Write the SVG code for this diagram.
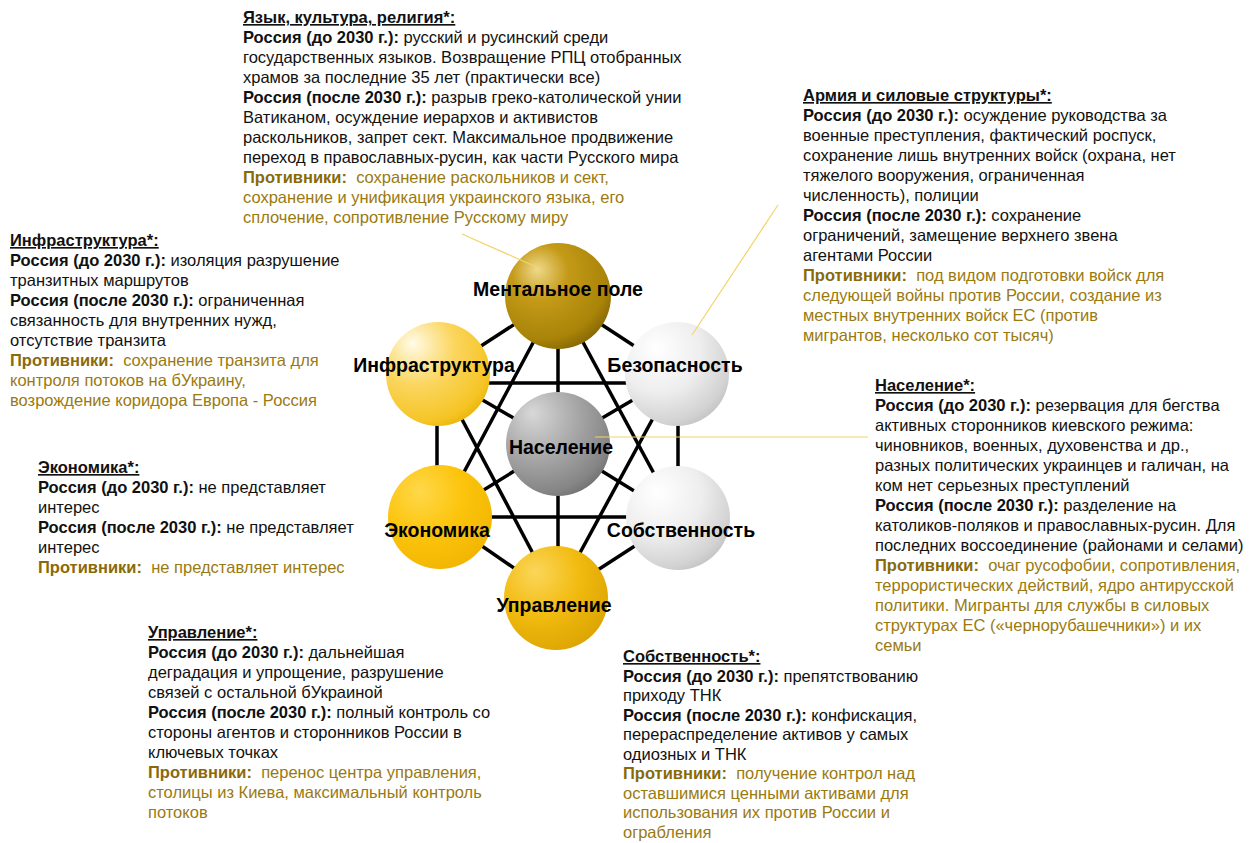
<svg xmlns="http://www.w3.org/2000/svg" width="1260" height="843" viewBox="0 0 1260 843">
<style>
text{font-family:"Liberation Sans",Arial,sans-serif;font-size:16.5px;fill:#111}
.t{font-weight:bold;text-decoration:underline}
.b{font-weight:bold}
.g{fill:#9a7a10}
.gb{fill:#8a6a08;font-weight:bold}
.lbl{font-weight:bold;font-size:19.5px;text-anchor:middle;fill:#000}
.edge{stroke:#000;stroke-width:3.5;stroke-linecap:butt}
.call{stroke:#f2d46a;stroke-width:1.2;fill:none}
</style>
<defs>
<radialGradient id="gMent" cx="0.38" cy="0.32" r="0.75" fx="0.3" fy="0.25">
<stop offset="0" stop-color="#efd98a"/><stop offset="0.35" stop-color="#c49a18"/><stop offset="0.8" stop-color="#a98408"/><stop offset="1" stop-color="#7f6206"/>
</radialGradient>
<radialGradient id="gInfra" cx="0.35" cy="0.3" r="0.8" fx="0.25" fy="0.2">
<stop offset="0" stop-color="#fffbe8"/><stop offset="0.45" stop-color="#fbd660"/><stop offset="0.85" stop-color="#f5c424"/><stop offset="1" stop-color="#e6b000"/>
</radialGradient>
<radialGradient id="gGrey" cx="0.35" cy="0.3" r="0.8" fx="0.3" fy="0.25">
<stop offset="0" stop-color="#ffffff"/><stop offset="0.5" stop-color="#eeeeee"/><stop offset="0.85" stop-color="#d2d2d2"/><stop offset="1" stop-color="#bdbdbd"/>
</radialGradient>
<radialGradient id="gPop" cx="0.35" cy="0.3" r="0.8" fx="0.25" fy="0.2">
<stop offset="0" stop-color="#d8d8d8"/><stop offset="0.5" stop-color="#a6a6a6"/><stop offset="0.85" stop-color="#858585"/><stop offset="1" stop-color="#6a6a6a"/>
</radialGradient>
<radialGradient id="gEcon" cx="0.35" cy="0.3" r="0.8" fx="0.3" fy="0.25">
<stop offset="0" stop-color="#ffd84a"/><stop offset="0.5" stop-color="#fcc40c"/><stop offset="1" stop-color="#f0b400"/>
</radialGradient>
<radialGradient id="gUpr" cx="0.35" cy="0.3" r="0.8" fx="0.3" fy="0.25">
<stop offset="0" stop-color="#fbd65a"/><stop offset="0.5" stop-color="#f2bb10"/><stop offset="1" stop-color="#d9a200"/>
</radialGradient>
</defs>
<rect width="1260" height="843" fill="#fff"/>

<g id="connectors">
<line class="edge" x1="558" y1="296" x2="438" y2="374"/>
<line class="edge" x1="558" y1="296" x2="677" y2="374"/>
<line class="edge" x1="558" y1="296" x2="558" y2="444"/>
<line class="edge" x1="558" y1="296" x2="440" y2="517"/>
<line class="edge" x1="558" y1="296" x2="678" y2="518"/>
<line class="edge" x1="438" y1="383" x2="677" y2="383"/>
<line class="edge" x1="438" y1="374" x2="558" y2="444"/>
<line class="edge" x1="437" y1="374" x2="437" y2="517"/>
<line class="edge" x1="438" y1="374" x2="556" y2="597"/>
<line class="edge" x1="677" y1="374" x2="558" y2="444"/>
<line class="edge" x1="678" y1="374" x2="678" y2="518"/>
<line class="edge" x1="677" y1="374" x2="556" y2="597"/>
<line class="edge" x1="440" y1="517" x2="558" y2="444"/>
<line class="edge" x1="440" y1="517" x2="678" y2="517"/>
<line class="edge" x1="440" y1="517" x2="556" y2="597"/>
<line class="edge" x1="678" y1="518" x2="558" y2="444"/>
<line class="edge" x1="678" y1="518" x2="556" y2="597"/>
<line class="edge" x1="558" y1="444" x2="558" y2="597"/>
</g>

<g id="node-ment"><circle cx="558" cy="296" r="53" fill="url(#gMent)"/><text class="lbl" x="558" y="296">Ментальное поле</text></g>
<g id="node-infra"><circle cx="438" cy="374" r="52" fill="url(#gInfra)"/><text class="lbl" x="434" y="372">Инфраструктура</text></g>
<g id="node-bez"><circle cx="677" cy="374" r="52" fill="url(#gGrey)"/><text class="lbl" x="675" y="372">Безопасность</text></g>
<g id="node-pop"><circle cx="558" cy="444" r="52" fill="url(#gPop)"/><text class="lbl" x="561" y="454">Население</text></g>
<g id="node-econ"><circle cx="440" cy="517" r="52" fill="url(#gEcon)"/><text class="lbl" x="437" y="537">Экономика</text></g>
<g id="node-sob"><circle cx="678" cy="518" r="52" fill="url(#gGrey)"/><text class="lbl" x="681" y="537">Собственность</text></g>
<g id="node-upr"><circle cx="556" cy="598" r="52" fill="url(#gUpr)"/><text class="lbl" x="554" y="612">Управление</text></g>

<g id="callouts">
<line class="call" x1="462" y1="234" x2="541" y2="269"/>
<line class="call" x1="692" y1="335" x2="778" y2="205"/>
<line class="call" x1="595" y1="437" x2="868" y2="437"/>
</g>

<g id="text-yazyk">
<text x="243" y="23" xml:space="preserve"><tspan class="t">Язык, культура, религия*:</tspan><tspan x="243" dy="20.2"><tspan class="b">Россия (до 2030 г.):</tspan> русский и русинский среди</tspan><tspan x="243" dy="20">государственных языков. Возвращение РПЦ отобранных</tspan><tspan x="243" dy="20">храмов за последние 35 лет (практически все)</tspan><tspan x="243" dy="20"><tspan class="b">Россия (после 2030 г.):</tspan> разрыв греко-католической унии</tspan><tspan x="243" dy="20">Ватиканом, осуждение иерархов и активистов</tspan><tspan x="243" dy="20">раскольников, запрет сект. Максимальное продвижение</tspan><tspan x="243" dy="20">переход в православных-русин, как части Русского мира</tspan><tspan x="243" dy="20"><tspan class="gb">Противники:</tspan><tspan class="g">  сохранение раскольников и сект,</tspan></tspan><tspan x="243" dy="20" class="g">сохранение и унификация украинского языка, его</tspan><tspan x="243" dy="20" class="g">сплочение, сопротивление Русскому миру</tspan></text>
</g>

<g id="text-armiya">
<text x="803" y="101" xml:space="preserve"><tspan class="t">Армия и силовые структуры*:</tspan><tspan x="803" dy="20"><tspan class="b">Россия (до 2030 г.):</tspan> осуждение руководства за</tspan><tspan x="803" dy="20">военные преступления, фактический роспуск,</tspan><tspan x="803" dy="20">сохранение лишь внутренних войск (охрана, нет</tspan><tspan x="803" dy="20">тяжелого вооружения, ограниченная</tspan><tspan x="803" dy="20">численность), полиции</tspan><tspan x="803" dy="20"><tspan class="b">Россия (после 2030 г.):</tspan> сохранение</tspan><tspan x="803" dy="20">ограничений, замещение верхнего звена</tspan><tspan x="803" dy="20">агентами России</tspan><tspan x="803" dy="20"><tspan class="gb">Противники:</tspan><tspan class="g">  под видом подготовки войск для</tspan></tspan><tspan x="803" dy="20" class="g">следующей войны против России, создание из</tspan><tspan x="803" dy="20" class="g">местных внутренних войск ЕС (против</tspan><tspan x="803" dy="20" class="g">мигрантов, несколько сот тысяч)</tspan></text>
</g>

<g id="text-infra">
<text x="10" y="246" xml:space="preserve"><tspan class="t">Инфраструктура*:</tspan><tspan x="10" dy="20"><tspan class="b">Россия (до 2030 г.):</tspan> изоляция разрушение</tspan><tspan x="10" dy="20">транзитных маршрутов</tspan><tspan x="10" dy="20"><tspan class="b">Россия (после 2030 г.):</tspan> ограниченная</tspan><tspan x="10" dy="20">связанность для внутренних нужд,</tspan><tspan x="10" dy="20">отсутствие транзита</tspan><tspan x="10" dy="20"><tspan class="gb">Противники:</tspan><tspan class="g">  сохранение транзита для</tspan></tspan><tspan x="10" dy="20" class="g">контроля потоков на бУкраину,</tspan><tspan x="10" dy="20" class="g">возрождение коридора Европа - Россия</tspan></text>
</g>

<g id="text-naselenie">
<text x="875" y="391" xml:space="preserve"><tspan class="t">Население*:</tspan><tspan x="875" dy="20"><tspan class="b">Россия (до 2030 г.):</tspan> резервация для бегства</tspan><tspan x="875" dy="20">активных сторонников киевского режима:</tspan><tspan x="875" dy="20">чиновников, военных, духовенства и др.,</tspan><tspan x="875" dy="20">разных политических украинцев и галичан, на</tspan><tspan x="875" dy="20">ком нет серьезных преступлений</tspan><tspan x="875" dy="20"><tspan class="b">Россия (после 2030 г.):</tspan> разделение на</tspan><tspan x="875" dy="20">католиков-поляков и православных-русин. Для</tspan><tspan x="875" dy="20">последних воссоединение (районами и селами)</tspan><tspan x="875" dy="20"><tspan class="gb">Противники:</tspan><tspan class="g">  очаг русофобии, сопротивления,</tspan></tspan><tspan x="875" dy="20" class="g">террористических действий, ядро антирусской</tspan><tspan x="875" dy="20" class="g">политики. Мигранты для службы в силовых</tspan><tspan x="875" dy="20" class="g">структурах ЕС («чернорубашечники») и их</tspan><tspan x="875" dy="20" class="g">семьи</tspan></text>
</g>

<g id="text-ekonomika">
<text x="38" y="473" xml:space="preserve"><tspan class="t">Экономика*:</tspan><tspan x="38" dy="20"><tspan class="b">Россия (до 2030 г.):</tspan> не представляет</tspan><tspan x="38" dy="20">интерес</tspan><tspan x="38" dy="20"><tspan class="b">Россия (после 2030 г.):</tspan> не представляет</tspan><tspan x="38" dy="20">интерес</tspan><tspan x="38" dy="20"><tspan class="gb">Противники:</tspan><tspan class="g">  не представляет интерес</tspan></tspan></text>
</g>

<g id="text-upravlenie">
<text x="148" y="638" xml:space="preserve"><tspan class="t">Управление*:</tspan><tspan x="148" dy="20"><tspan class="b">Россия (до 2030 г.):</tspan> дальнейшая</tspan><tspan x="148" dy="20">деградация и упрощение, разрушение</tspan><tspan x="148" dy="20">связей с остальной бУкраиной</tspan><tspan x="148" dy="20"><tspan class="b">Россия (после 2030 г.):</tspan> полный контроль со</tspan><tspan x="148" dy="20">стороны агентов и сторонников России в</tspan><tspan x="148" dy="20">ключевых точках</tspan><tspan x="148" dy="20"><tspan class="gb">Противники:</tspan><tspan class="g">  перенос центра управления,</tspan></tspan><tspan x="148" dy="20" class="g">столицы из Киева, максимальный контроль</tspan><tspan x="148" dy="20" class="g">потоков</tspan></text>
</g>

<g id="text-sobstvennost">
<text x="623" y="662" xml:space="preserve"><tspan class="t">Собственность*:</tspan><tspan x="623" dy="19.5"><tspan class="b">Россия (до 2030 г.):</tspan> препятствованию</tspan><tspan x="623" dy="19.5">приходу ТНК</tspan><tspan x="623" dy="19.5"><tspan class="b">Россия (после 2030 г.):</tspan> конфискация,</tspan><tspan x="623" dy="19.5">перераспределение активов у самых</tspan><tspan x="623" dy="19.5">одиозных и ТНК</tspan><tspan x="623" dy="19.5"><tspan class="gb">Противники:</tspan><tspan class="g">  получение контрол над</tspan></tspan><tspan x="623" dy="19.5" class="g">оставшимися ценными активами для</tspan><tspan x="623" dy="19.5" class="g">использования их против России и</tspan><tspan x="623" dy="19.5" class="g">ограбления</tspan></text>
</g>
</svg>
